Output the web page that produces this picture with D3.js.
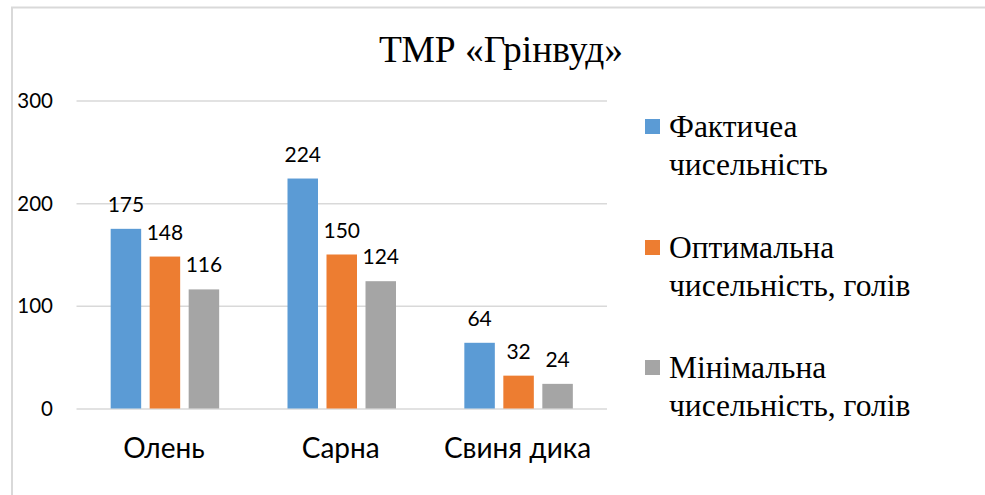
<!DOCTYPE html>
<html>
<head>
<meta charset="utf-8">
<script src="https://cdn.jsdelivr.net/npm/d3@7"></script>
<style>
  html, body { margin: 0; padding: 0; background: #ffffff; }
  svg { display: block; }
</style>
</head>
<body>
<svg id="chart" width="985" height="495"></svg>
<script>
const categories = ["Олень", "Сарна", "Свиня дика"];
const seriesNames = [
  ["Фактичеа", "чисельність"],
  ["Оптимальна", "чисельність, голів"],
  ["Мінімальна", "чисельність, голів"]
];
const actual = [175, 224, 64];
const optimal = [148, 150, 32];
const minimal = [116, 124, 24];
const yTicks = [0, 100, 200, 300];
const colors = ["#5b9bd5", "#ed7d31", "#a5a5a5"];
const title = "ТМР «Грінвуд»";

const seriesValues = [actual, optimal, minimal];

const svg = d3.select("#chart");

// outer chart border
svg.append("rect")
  .attr("x", 12).attr("y", 7.5)
  .attr("width", 1000).attr("height", 600)
  .attr("fill", "none").attr("stroke", "#d9d9d9").attr("stroke-width", 2);

const plot = { left: 76.5, right: 607, top: 100.5, bottom: 408.5 };

const y = d3.scaleLinear().domain([0, 300]).range([plot.bottom, plot.top]);
const x0 = d3.scaleBand().domain(categories).range([plot.left, plot.right]).padding(0);
const barW = 30.5, gap = 8.5;
const groupW = barW * 3 + gap * 2;
const x1 = d3.scaleBand().domain(d3.range(3)).range([0, groupW]).paddingInner(gap / (barW + gap)).paddingOuter(0);

// gridlines
svg.append("g")
  .attr("transform", `translate(${plot.left},0)`)
  .call(d3.axisLeft(y).tickValues(yTicks).tickSize(-(plot.right - plot.left)).tickFormat(""))
  .call(g => g.select(".domain").remove())
  .call(g => g.selectAll("line").attr("stroke", "#d9d9d9").attr("stroke-width", 1.5));

// y tick labels
svg.append("g").selectAll("text").data(yTicks).join("text")
  .attr("x", 53).attr("y", d => y(d) + 7.5)
  .attr("text-anchor", "end")
  .attr("font-family", "Lato, sans-serif").attr("font-size", 20.5)
  .attr("fill", "#000")
  .text(d => d);

// bars
const groups = svg.append("g").selectAll("g").data(categories).join("g")
  .attr("transform", c => `translate(${x0(c) + (x0.bandwidth() - groupW) / 2},0)`);

groups.selectAll("rect").data((c, i) => seriesValues.map((s, k) => ({ k, v: s[i] }))).join("rect")
  .attr("x", d => x1(d.k)).attr("width", x1.bandwidth())
  .attr("y", d => y(d.v)).attr("height", d => y(0) - y(d.v))
  .attr("fill", d => colors[d.k]);

groups.selectAll("text").data((c, i) => seriesValues.map((s, k) => ({ k, v: s[i] }))).join("text")
  .attr("x", d => x1(d.k) + x1.bandwidth() / 2)
  .attr("y", d => y(d.v) - 17)
  .attr("text-anchor", "middle")
  .attr("font-family", "Lato, sans-serif").attr("font-size", 21)
  .attr("fill", "#000")
  .text(d => d.v);

// category labels
svg.append("g").selectAll("text").data(categories).join("text")
  .attr("x", c => x0(c) + x0.bandwidth() / 2 - 1)
  .attr("y", 458)
  .attr("text-anchor", "middle")
  .attr("font-family", "Lato, sans-serif").attr("font-size", 28)
  .attr("fill", "#000")
  .text(c => c);

// title
svg.append("text")
  .attr("x", 501).attr("y", 62)
  .attr("text-anchor", "middle")
  .attr("font-family", "'Liberation Serif', 'Times New Roman', serif").attr("font-size", 37.5)
  .attr("fill", "#000")
  .text(title);

// legend
const legendY = [119, 240, 360];
const leg = svg.append("g").selectAll("g").data(seriesNames).join("g")
  .attr("transform", (d, i) => `translate(645,${legendY[i]})`);
leg.append("rect").attr("width", 15).attr("height", 15).attr("fill", (d, i) => colors[i]);
leg.append("text")
  .attr("font-family", "'Liberation Serif', 'Times New Roman', serif").attr("font-size", 31.5)
  .attr("fill", "#000")
  .selectAll("tspan").data(d => d).join("tspan")
  .attr("x", 24).attr("y", (d, j) => 18 + j * 37.5)
  .text(d => d);
</script>
</body>
</html>
